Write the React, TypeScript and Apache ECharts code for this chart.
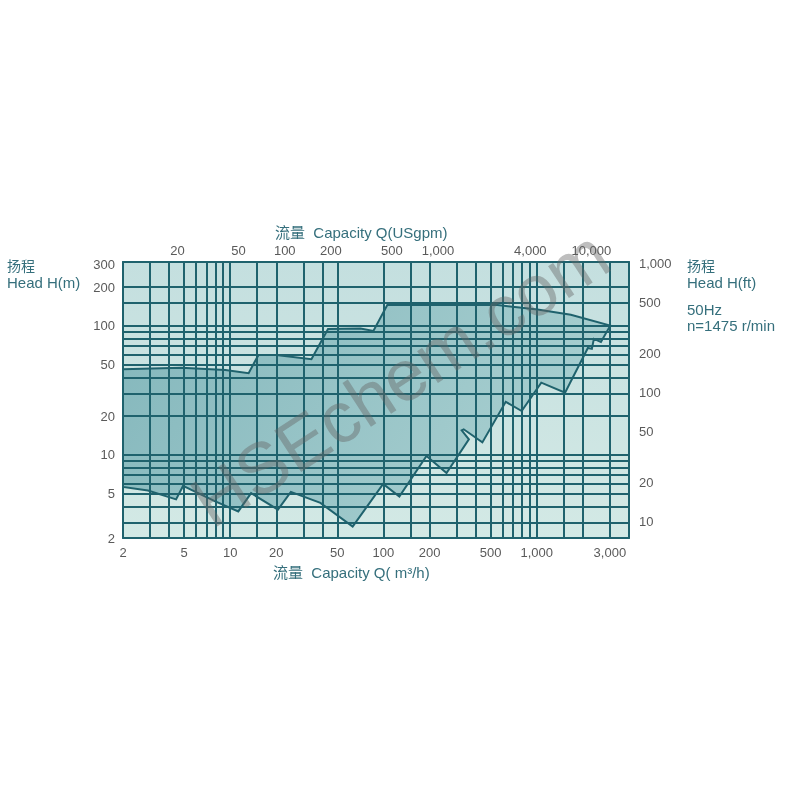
import React, { useEffect, useRef } from 'react';
import * as echarts from 'echarts';

// unit conversions
const M3H_TO_GPM = 4.403;
const M_TO_FT = 3.281;

// axis domains (m³/h and m)
const Q_MIN = 2;
const Q_MAX = 4000;
const H_MIN = 2.27;
const H_MAX = 313;

// tick labels
const qTicks = [2, 5, 10, 20, 50, 100, 200, 500, 1000, 3000];
const gpmTicks = [20, 50, 100, 200, 500, 1000, 4000, 10000];
const hTicks = [2, 5, 10, 20, 50, 100, 200, 300];
const ftTicks = [10, 20, 50, 100, 200, 500, 1000];

// grid lines
const qGrid = [3, 4, 5, 6, 7, 8, 9, 10, 15, 20, 30, 40, 50, 100, 150, 200, 300, 400, 500, 600, 700, 800, 900, 1000, 1500, 2000, 3000];
const hGrid = [3, 4, 5, 6, 7, 8, 9, 10, 20, 30, 40, 50, 60, 70, 80, 90, 100, 150, 200];

// performance envelope: upper boundary (left → right)
const upperQ = [2, 4.8, 9.3, 13.2, 15.3, 20, 33.9, 43.5, 70.8, 86, 106, 556, 1012, 1670, 3017];
const upperH = [46.2, 47.5, 45.6, 43.0, 59.6, 59.6, 55.2, 94.8, 95.6, 91.5, 145, 145, 134, 122, 100.5];
// right boundary (top → bottom)
const rightQ = [2624, 2360, 2290, 2157];
const rightH = [75.2, 79.3, 66.4, 67.5];
// lower boundary (left → right)
const lowerQ = [2, 2.91, 4.44, 4.93, 7.87, 11.3, 13.7, 20.5, 24.9, 38.8, 63, 99.6, 127, 191, 258, 361, 324, 334, 442, 628, 798, 1071, 1531];
const lowerH = [5.65, 5.29, 4.52, 5.75, 4.40, 3.65, 5.05, 3.77, 5.17, 4.25, 2.78, 5.96, 4.75, 9.82, 7.25, 13.2, 15.5, 15.8, 12.5, 25.8, 21.9, 36.3, 30.4];

const FONT = '"Liberation Sans", Arial, "Noto Sans CJK SC", sans-serif';
const LINE = '#1f626d';
const TITLE = '#356f7c';
const NUM = '#5a5a5a';

const fmt = (v: number) => Math.round(v).toLocaleString('en-US');

export default function App() {
  const ref = useRef<HTMLDivElement>(null);
  useEffect(() => {
    if (!ref.current) return;
    const chart = echarts.init(ref.current, undefined, { renderer: 'svg' });

    const envelope: number[][] = [];
    upperQ.forEach((q, i) => envelope.push([q, upperH[i]]));
    rightQ.forEach((q, i) => envelope.push([q, rightH[i]]));
    for (let i = lowerQ.length - 1; i >= 0; i--) envelope.push([lowerQ[i], lowerH[i]]);

    const axisLine = { show: true, lineStyle: { color: LINE, width: 2 } };
    const label = { color: NUM, fontSize: 13, fontFamily: FONT, formatter: (v: number) => fmt(v) };

    chart.setOption({
      animation: false,
      grid: {
        left: 123, right: 171, top: 262, bottom: 262,
        show: true, borderWidth: 0,
        backgroundColor: {
          type: 'linear', x: 0, y: 0, x2: 0, y2: 1,
          colorStops: [{ offset: 0, color: '#c4dfdf' }, { offset: 1, color: '#d3e9e5' }],
        },
      },
      xAxis: [
        {
          type: 'log', position: 'bottom', min: Q_MIN, max: Q_MAX,
          axisLine, axisTick: { show: false }, splitLine: { show: false },
          axisLabel: { ...label, margin: 8, customValues: qTicks },
        },
        {
          type: 'log', position: 'top', min: Q_MIN * M3H_TO_GPM, max: Q_MAX * M3H_TO_GPM,
          axisLine, axisTick: { show: false }, splitLine: { show: false },
          axisLabel: { ...label, margin: 5, customValues: gpmTicks },
        },
      ],
      yAxis: [
        {
          type: 'log', position: 'left', min: H_MIN, max: H_MAX,
          axisLine, axisTick: { show: false }, splitLine: { show: false },
          axisLabel: { ...label, margin: 8, customValues: hTicks.map((v) => Math.max(v, H_MIN)) },
        },
        {
          type: 'log', position: 'right', min: H_MIN * M_TO_FT, max: H_MAX * M_TO_FT,
          axisLine, axisTick: { show: false }, splitLine: { show: false },
          axisLabel: { ...label, margin: 10, customValues: ftTicks },
        },
      ],
      series: [
        {
          type: 'custom',
          xAxisIndex: 0, yAxisIndex: 0,
          data: [[100, 10]],
          silent: true,
          z: 2,
          renderItem: (_params: any, api: any) => {
            const pts = envelope.map((p) => api.coord(p));
            return {
              type: 'polygon',
              shape: { points: pts },
              style: {
                fill: {
                  type: 'linear', x: 0, y: 0, x2: 1, y2: 0.3,
                  colorStops: [
                    { offset: 0, color: '#84b7bc' },
                    { offset: 1, color: '#a8cfd0' },
                  ],
                },
                stroke: LINE,
                lineWidth: 2,
              },
            };
          },
        },
        {
          type: 'line',
          xAxisIndex: 0, yAxisIndex: 0,
          data: [[100, 10]],
          showSymbol: false,
          silent: true,
          z: 3,
          markLine: {
            silent: true,
            symbol: ['none', 'none'],
            label: { show: false },
            lineStyle: { color: LINE, width: 2, type: 'solid' },
            data: [
              ...qGrid.map((v) => ({ xAxis: v })),
              ...hGrid.map((v) => ({ yAxis: v })),
            ],
          },
        },
      ],
      graphic: [
        { type: 'text', left: 275, top: 225, style: { text: '流量  Capacity Q(USgpm)', fill: TITLE, fontSize: 15, fontFamily: FONT } },
        { type: 'text', left: 273, top: 565, style: { text: '流量  Capacity Q( m³/h)', fill: TITLE, fontSize: 15, fontFamily: FONT } },
        { type: 'text', left: 7, top: 259, style: { text: '扬程', fill: TITLE, fontSize: 14, fontFamily: FONT } },
        { type: 'text', left: 7, top: 275, style: { text: 'Head H(m)', fill: TITLE, fontSize: 15, fontFamily: FONT } },
        { type: 'text', left: 687, top: 259, style: { text: '扬程', fill: TITLE, fontSize: 14, fontFamily: FONT } },
        { type: 'text', left: 687, top: 275, style: { text: 'Head H(ft)', fill: TITLE, fontSize: 15, fontFamily: FONT } },
        { type: 'text', left: 687, top: 302, style: { text: '50Hz', fill: TITLE, fontSize: 15, fontFamily: FONT } },
        { type: 'text', left: 687, top: 318, style: { text: 'n=1475 r/min', fill: TITLE, fontSize: 15, fontFamily: FONT } },
        {
          type: 'text', x: 400, y: 378, rotation: (33 * Math.PI) / 180, z: 100, silent: true,
          style: {
            text: 'HSEchem.com', fill: 'rgba(100,100,100,0.42)', fontSize: 72, fontFamily: FONT,
            align: 'center', verticalAlign: 'middle',
          },
        },
      ],
    });
    return () => chart.dispose();
  }, []);
  return <div ref={ref} style={{ position: 'fixed', left: 0, top: 0, width: 800, height: 800 }} />;
}
